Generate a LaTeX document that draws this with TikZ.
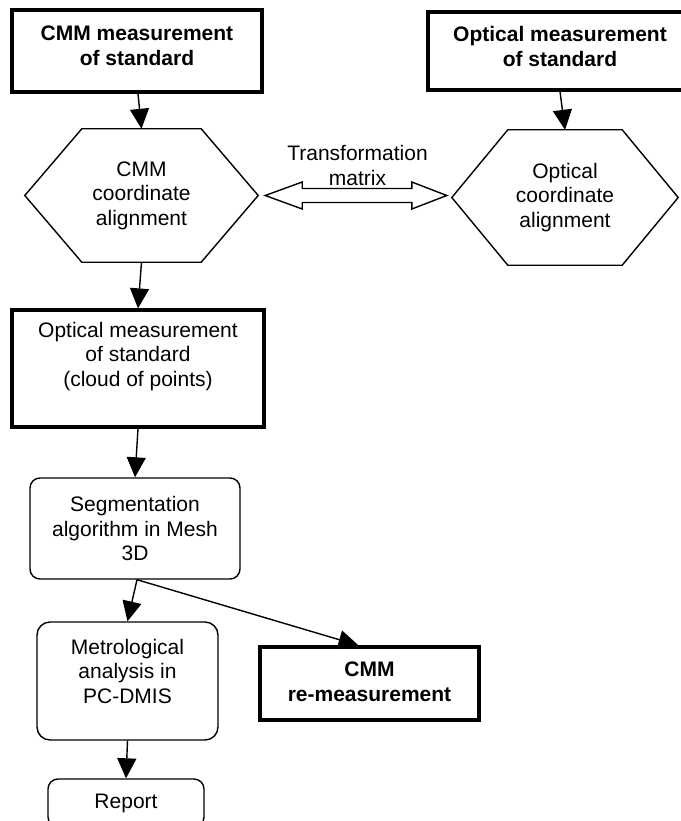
\documentclass[tikz,border=0pt]{standalone}
\usepackage{fontspec}
\setmainfont{Liberation Sans}
\usetikzlibrary{arrows.meta,calc}
\begin{document}
\begin{tikzpicture}[x=1pt,y=-1pt,
  base/.style={draw, line width=1.4pt, align=center, inner sep=0pt, font=\fontsize{21}{24.5}\selectfont},
  thickbox/.style={base, line width=3.2pt},
  rbox/.style={base, rounded corners=10pt},
  txt/.style={align=center, inner sep=0pt, font=\fontsize{21}{24.5}\selectfont},
  btxt/.style={align=center, inner sep=0pt, font=\fontsize{21}{25}\selectfont\bfseries},
  conn/.style={line width=1.4pt, -{Triangle[length=20pt,width=19pt]}},
  hexline/.style={line width=1.4pt, line join=miter}]
\useasboundingbox (0,0) rectangle (680,821);

% top boxes
\node[thickbox, minimum width=250pt, minimum height=82pt,
  label={[btxt,yshift=5.5pt]center:{CMM measurement\\of standard}}] (b1) at (137,51) {};
\node[thickbox, minimum width=264pt, minimum height=78pt,
  label={[btxt,yshift=4.5pt]center:{Optical measurement\\of standard}}] (b2) at (560,51) {};

% hexagons
\node[txt, minimum width=233pt, minimum height=133pt] (h1) at (141.5,195.5) {CMM\\coordinate\\alignment};
\draw[hexline] (h1.west) -- ([xshift=57pt]h1.north west) -- ([xshift=-57pt]h1.north east) -- (h1.east)
  -- ([xshift=-57pt]h1.south east) -- ([xshift=57pt]h1.south west) -- cycle;
\node[txt, minimum width=226pt, minimum height=135pt] (h2) at (565,197.5) {Optical\\coordinate\\alignment};
\draw[hexline] (h2.west) -- ([xshift=56pt]h2.north west) -- ([xshift=-56pt]h2.north east) -- (h2.east)
  -- ([xshift=-56pt]h2.south east) -- ([xshift=56pt]h2.south west) -- cycle;

% transformation matrix
\node[txt] (tm) at (357.5,165.5) {Transformation\\matrix};
\coordinate (dl) at ($(h1.east)+(7,0)$);
\coordinate (dr) at ($(h2.west |- h1.east)+(-5,0)$);
\draw[hexline] (dl) -- ($(dl)+(37,-13.5)$) -- ($(dl)+(37,-7)$) -- ($(dr)+(-35,-7)$) -- ($(dr)+(-35,-13.5)$)
  -- (dr) -- ($(dr)+(-35,13.5)$) -- ($(dr)+(-35,7)$) -- ($(dl)+(37,7)$) -- ($(dl)+(37,13.5)$) -- cycle;

% middle and lower boxes
\node[thickbox, minimum width=252pt, minimum height=117pt,
  label={[txt,yshift=12pt]center:{Optical measurement\\of standard\\(cloud of points)}}] (b3) at (138,368.5) {};
\node[rbox, minimum width=210pt, minimum height=101pt] (b4) at (135,528.5) {Segmentation\\algorithm in Mesh\\3D};
\node[rbox, rounded corners=13pt, minimum width=181pt, minimum height=118pt,
  label={[txt,yshift=10pt]center:{Metrological\\analysis in\\PC-DMIS}}] (b5) at (127.5,681) {};
\node[thickbox, minimum width=219pt, minimum height=73pt,
  label={[btxt,yshift=1.5pt]center:{CMM\\re-measurement}}] (b6) at (369.5,683.5) {};
\node[rbox, minimum width=156pt, minimum height=48pt] (rep) at (126,803) {Report};

% connectors
\draw[conn] ([xshift=1pt]b1.south) -- (h1.north);
\draw[conn] (b2.south) -- (h2.north);
\draw[conn] (h1.south) -- (b3.north);
\draw[conn] (b3.south) -- (b4.north);
\draw[conn] ([xshift=2pt]b4.south) -- (b5.north);
\draw[conn] ([xshift=2pt]b4.south) -- ([xshift=-11pt]b6.north);
\draw[conn] (b5.south) -- (rep.north);
\end{tikzpicture}
\end{document}
